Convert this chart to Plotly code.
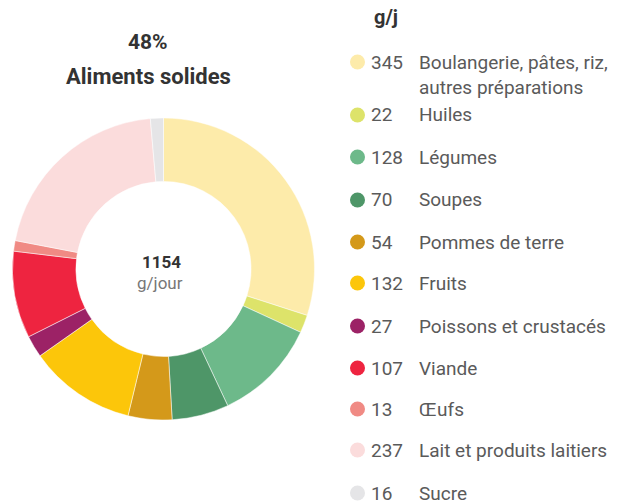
import plotly.graph_objects as go

categories = ["Boulangerie, pâtes, riz,<br>autres préparations", "Huiles", "Légumes", "Soupes",
              "Pommes de terre", "Fruits", "Poissons et crustacés", "Viande", "Œufs",
              "Lait et produits laitiers", "Sucre"]
values = [345, 22, 128, 70, 54, 132, 27, 107, 13, 237, 16]
colors = ["#FDEBAA", "#DDE36A", "#6DB98A", "#4E9668", "#D4991A", "#FCC60A",
          "#9C2266", "#EE2440", "#F08A84", "#FBDCDC", "#E5E5E7"]
total_label = "1154"

W, H = 623, 504
FONT = "Roboto, Arial"

def px(x):
    return x / W

def py(y):
    return 1 - y / H

fig = go.Figure()
fig.add_trace(go.Pie(
    labels=categories, values=values, sort=False, direction="clockwise", rotation=0,
    hole=0.58, marker=dict(colors=colors, line=dict(color="white", width=0.5)),
    textinfo="none", hoverinfo="label+value", showlegend=False,
    domain=dict(x=[px(12.5), px(314.5)], y=[py(420), py(118)]),
))

ann = []
ann.append(dict(x=px(148), y=py(42), text="<b>48%</b>", showarrow=False,
                font=dict(size=21, color="#333333", family=FONT), xanchor="center", yanchor="middle"))
ann.append(dict(x=px(148), y=py(76), text="<b>Aliments solides</b>", showarrow=False,
                font=dict(size=22, color="#333333", family=FONT), xanchor="center", yanchor="middle"))
ann.append(dict(x=px(161), y=py(262), text="<b>" + total_label + "</b>", showarrow=False,
                font=dict(size=17, color="#333333", family=FONT), xanchor="center", yanchor="middle"))
ann.append(dict(x=px(160), y=py(283), text="g/jour", showarrow=False,
                font=dict(size=17, color="#777777", family=FONT), xanchor="center", yanchor="middle"))
ann.append(dict(x=px(372), y=py(17), text="<b>g/j</b>", showarrow=False,
                font=dict(size=20, color="#333333", family=FONT), xanchor="left", yanchor="middle"))

shapes = []
ys = [62, 115, 157, 200, 242, 283, 326, 368, 409, 450, 493]
for i, (cat, v, c) in enumerate(zip(categories, values, colors)):
    y = ys[i]
    shapes.append(dict(type="circle", xref="paper", yref="paper",
                       x0=px(350), x1=px(365), y0=py(y + 7.5), y1=py(y - 7.5),
                       fillcolor=c, line=dict(width=0)))
    ann.append(dict(x=px(369), y=py(y), text=str(v), showarrow=False,
                    font=dict(size=19, color="#5a5a5a", family=FONT), xanchor="left", yanchor="middle"))
    if "<br>" in cat:
        ann.append(dict(x=px(417), y=py(y - 13), text=cat, showarrow=False, align="left",
                        font=dict(size=19, color="#5a5a5a", family=FONT), xanchor="left", yanchor="top"))
    else:
        ann.append(dict(x=px(417), y=py(y), text=cat, showarrow=False,
                        font=dict(size=19, color="#5a5a5a", family=FONT), xanchor="left", yanchor="middle"))

fig.update_layout(width=W, height=H, margin=dict(l=0, r=0, t=0, b=0),
                  paper_bgcolor="white", plot_bgcolor="white",
                  annotations=ann, shapes=shapes)
fig.write_html("out.html", config={"displayModeBar": False},
               post_script="document.body.style.margin='0';document.body.style.padding='0';")
